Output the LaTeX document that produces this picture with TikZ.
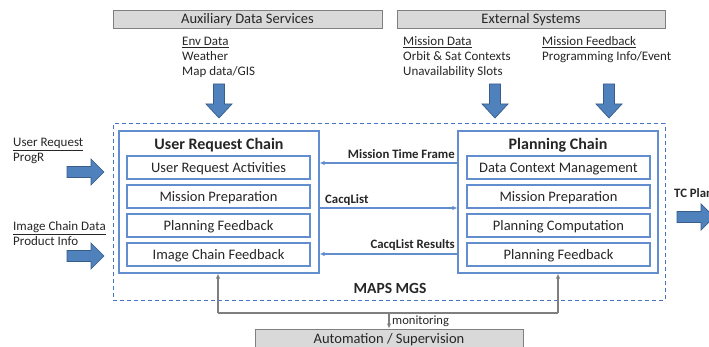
\documentclass[tikz,border=0pt]{standalone}
\usepackage{fontspec}
\setmainfont{Carlito}
\usetikzlibrary{arrows.meta}

\definecolor{chainblue}{RGB}{98,142,208}
\definecolor{dashblue}{RGB}{68,114,196}
\definecolor{arrowfill}{RGB}{79,129,189}
\definecolor{arrowedge}{RGB}{56,93,138}
\definecolor{greyfill}{RGB}{217,217,217}
\definecolor{greyedge}{RGB}{127,127,127}
\definecolor{txt}{RGB}{38,38,38}

\tikzset{
  greybox/.style={draw=greyedge, fill=greyfill, line width=0.9pt, minimum height=18pt,
    inner sep=0pt, text height=9.4pt, text depth=0pt, font=\fontsize{14.5}{16}\selectfont, text=txt},
  chainbox/.style={draw=chainblue, line width=1.2pt, inner sep=0pt},
  stepbox/.style={draw=chainblue, line width=1.1pt, minimum width=183pt, minimum height=23pt,
    inner sep=0pt, text height=9.4pt, text depth=0pt, font=\fontsize{14.5}{16}\selectfont, text=txt},
  chaintitle/.style={font=\bfseries\fontsize{16}{18}\selectfont, text=txt, inner sep=0pt,
    text height=10.3pt, text depth=0pt},
  infotext/.style={align=left, anchor=west, inner sep=0pt, font=\fontsize{13}{15}\selectfont, text=txt},
  flowlabel/.style={font=\bfseries\fontsize{12.8}{14}\selectfont, text=txt, inner sep=0pt,
    text height=8.2pt, text depth=0pt},
  flow/.style={draw=chainblue, line width=1.2pt, -{Latex[length=5pt,width=4.5pt]}},
  monitor/.style={draw=greyedge, line width=1.3pt},
  monitorarrow/.style={monitor, -{Latex[length=5pt,width=4.5pt]}},
  blockarrow/.style={fill=arrowfill, draw=arrowedge, line width=0.7pt},
  rightblock/.pic={\path[blockarrow] (0,-5.5) -- (24,-5.5) -- (24,-13) -- (37,0)
    -- (24,13) -- (24,5.5) -- (0,5.5) -- cycle;},
  downblock/.pic={\path[blockarrow] (-5.5,0) -- (-5.5,20) -- (-13,20) -- (0,34)
    -- (13,20) -- (5.5,20) -- (5.5,0) -- cycle;},
}

\begin{document}
\begin{tikzpicture}[x=1pt,y=-1pt]
\useasboundingbox (0,0) rectangle (709,347);

% external service bars
\node[greybox, minimum width=269pt] (aux) at (247.5,19) {Auxiliary Data Services};
\node[greybox, minimum width=268pt] (ext) at (531,19) {External Systems};
\node[greybox, minimum width=268pt, minimum height=19pt] (auto) at (389,338.5) {Automation / Supervision};

% incoming data descriptions
\node[infotext] (env) at (182,57.5) {\underline{Env Data}\\Weather\\Map data/GIS};
\node[infotext] (mdata) at (403,57.5) {\underline{Mission Data}\\Orbit \& Sat Contexts\\Unavailability Slots};
\node[infotext] (mfeed) at (542,50) {\underline{Mission Feedback}\\Programming Info/Event};
\node[infotext] (ureq) at (13,151) {\underline{User Request}\\ProgR};
\node[infotext] (icd) at (13,234) {\underline{Image Chain Data}\\Product Info};

% block arrows
\pic at (219,84) {downblock};
\pic at (495,84) {downblock};
\pic at (609,84) {downblock};
\pic at (67,172) {rightblock};
\pic at (67,256) {rightblock};
\pic at (677,217) {rightblock};

% MAPS MGS frame
\node[draw=dashblue, line width=1pt, dash pattern=on 4pt off 3pt, minimum width=552pt,
  minimum height=176pt, inner sep=0pt] (mgs) at (389,212) {};
\node[font=\bfseries\fontsize{15.5}{17}\selectfont, text=txt, inner sep=0pt,
  text height=10pt, text depth=0pt] (mgslabel) at (390,288) {MAPS MGS};

% user request chain
\node[chainbox, minimum width=200pt, minimum height=142pt] (urc) at (219,202) {};
\node[chaintitle] (urt) at (219,144) {User Request Chain};
\node[stepbox] (ura) at (218.5,167.5) {User Request Activities};
\node[stepbox] (urm) at (218.5,196.5) {Mission Preparation};
\node[stepbox] (urp) at (218.5,225.5) {Planning Feedback};
\node[stepbox] (uri) at (218.5,254.5) {Image Chain Feedback};

% planning chain
\node[chainbox, minimum width=200pt, minimum height=142pt] (pc) at (558,202) {};
\node[chaintitle] (pct) at (558,144) {Planning Chain};
\node[stepbox] (pcd) at (558.5,167.5) {Data Context Management};
\node[stepbox] (pcm) at (558.5,196.5) {Mission Preparation};
\node[stepbox] (pcc) at (558.5,225.5) {Planning Computation};
\node[stepbox] (pcf) at (558.5,254.5) {Planning Feedback};

% exchanges between the chains
\draw[flow] (pc.west |- 0,163) -- (urc.east |- 0,163);
\node[flowlabel, anchor=east] (mtf) at (455,154) {Mission Time Frame};
\draw[flow] (urc.east |- 0,208) -- (pc.west |- 0,208);
\node[flowlabel, anchor=west] (cacq) at (325,199) {CacqList};
\draw[flow] (pc.west |- 0,254) -- (urc.east |- 0,254);
\node[flowlabel, anchor=east] (cacqres) at (455,244) {CacqList Results};

% output
\node[flowlabel, anchor=west] (tc) at (674,193) {TC Plan};

% supervision bus
\coordinate (busL) at (218,313);
\coordinate (busR) at (558,313);
\coordinate (busM) at (389,313);
\draw[monitor] (busL) -- (busR);
\draw[monitorarrow] (busL) -- (urc.south -| busL);
\draw[monitorarrow] (busR) -- (pc.south -| busR);
\draw[monitorarrow] (busM) -- (auto.north);
\node[anchor=west, inner sep=0pt, font=\fontsize{12.6}{14}\selectfont, text=txt] (mon) at (392,321) {monitoring};
\end{tikzpicture}
\end{document}
